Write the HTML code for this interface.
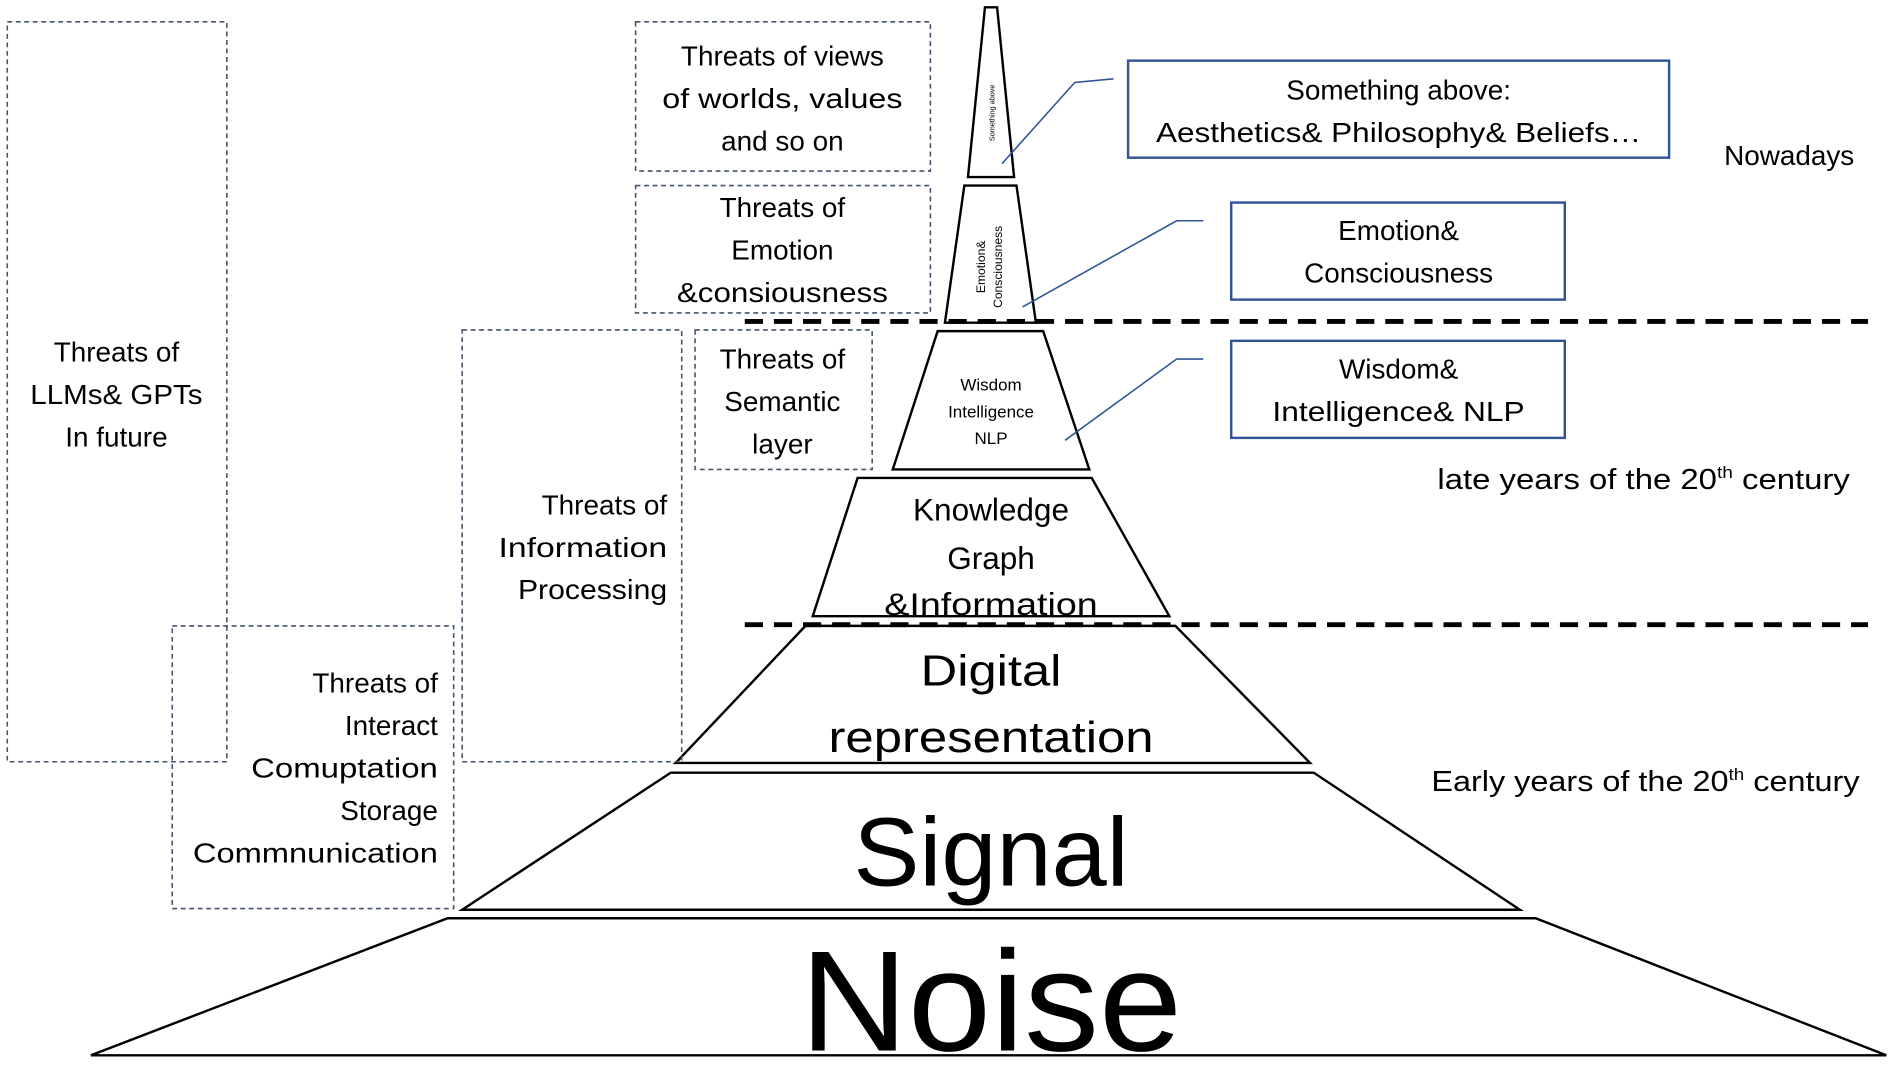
<!DOCTYPE html>
<html><head><meta charset="utf-8"><style>
html,body{margin:0;padding:0;background:#fff;}
svg{display:block;}
text{font-family:"Liberation Sans",sans-serif;fill:#000;}
</style></head><body>
<svg width="1902" height="1065" viewBox="0 0 1568 878" preserveAspectRatio="none" xmlns="http://www.w3.org/2000/svg">
<g fill="#fff" stroke="#000" stroke-width="2">
<polygon points="812,6 822,6 836,146 798,146"/>
<polygon points="795,153 838,153 854,266 779,266"/>
<polygon points="773,273 860,273 898,387 736,387"/>
<polygon points="707,394 900,394 964,508 670,508"/>
<polygon points="664,516 969,516 1080,629 557,629"/>
<polygon points="553,637 1083,637 1253,750 381,750"/>
<polygon points="369,757 1266,757 1555,870 75,870"/>
</g>
<g stroke="#000" stroke-width="4" stroke-dasharray="15,9">
<line x1="614" y1="265" x2="1540" y2="265"/>
<line x1="614" y1="515" x2="1540" y2="515"/>
</g>
<g fill="none" stroke="#44546a" stroke-width="1.3" stroke-dasharray="4,3">
<rect x="6" y="18" width="181" height="610"/>
<rect x="142" y="516" width="232" height="233"/>
<rect x="381" y="272" width="181" height="356"/>
<rect x="524" y="18" width="243" height="123"/>
<rect x="524" y="153" width="243" height="105"/>
<rect x="573" y="272" width="146" height="115"/>
</g>
<g fill="none" stroke="#2f5597" stroke-width="2">
<rect x="930" y="50" width="446" height="80"/>
<rect x="1015" y="167" width="275" height="80"/>
<rect x="1015" y="281" width="275" height="80"/>
</g>
<g fill="none" stroke="#2f5597" stroke-width="1.3">
<polyline points="918,65 886,68 826,135"/>
<polyline points="992,182 970,182 843,253"/>
<polyline points="992,296 970,296 878,363"/>
</g>
<g font-size="23" text-anchor="middle">
<text x="645" y="54">Threats of views</text>
<text x="645" y="89" textLength="198" lengthAdjust="spacingAndGlyphs">of worlds, values</text>
<text x="645" y="124">and so on</text>
<text x="645" y="179">Threats of</text>
<text x="645" y="214">Emotion</text>
<text x="645" y="249" textLength="174" lengthAdjust="spacingAndGlyphs">&amp;consiousness</text>
<text x="645" y="304">Threats of</text>
<text x="645" y="339">Semantic</text>
<text x="645" y="374">layer</text>
<text x="96" y="298">Threats of</text>
<text x="96" y="333" textLength="142" lengthAdjust="spacingAndGlyphs">LLMs&amp; GPTs</text>
<text x="96" y="368">In future</text>
<text x="1153" y="82">Something above:</text>
<text x="1153" y="117" textLength="400" lengthAdjust="spacingAndGlyphs">Aesthetics&amp; Philosophy&amp; Beliefs…</text>
<text x="1153" y="198">Emotion&amp;</text>
<text x="1153" y="233">Consciousness</text>
<text x="1153" y="312">Wisdom&amp;</text>
<text x="1153" y="347" textLength="208" lengthAdjust="spacingAndGlyphs">Intelligence&amp; NLP</text>
<text x="1475" y="136">Nowadays</text>
<text x="817" y="429" font-size="26">Knowledge</text>
<text x="817" y="469" font-size="26">Graph</text>
<text x="817" y="507" font-size="26" textLength="176" lengthAdjust="spacingAndGlyphs">&amp;Information</text>
</g>
<g font-size="23" text-anchor="end">
<text x="550" y="424">Threats of</text>
<text x="550" y="459" textLength="139" lengthAdjust="spacingAndGlyphs">Information</text>
<text x="550" y="494" textLength="123" lengthAdjust="spacingAndGlyphs">Processing</text>
<text x="361" y="571">Threats of</text>
<text x="361" y="606">Interact</text>
<text x="361" y="641" textLength="154" lengthAdjust="spacingAndGlyphs">Comuptation</text>
<text x="361" y="676">Storage</text>
<text x="361" y="711" textLength="202" lengthAdjust="spacingAndGlyphs">Commnunication</text>
</g>
<text x="1185" y="403" font-size="24" textLength="340" lengthAdjust="spacingAndGlyphs">late years of the 20<tspan font-size="14" dy="-9">th</tspan><tspan dy="9"> century</tspan></text>
<text x="1180" y="652" font-size="24" textLength="353" lengthAdjust="spacingAndGlyphs">Early years of the 20<tspan font-size="14" dy="-9">th</tspan><tspan dy="9"> century</tspan></text>
<g text-anchor="middle">
<text x="817" y="322" font-size="14">Wisdom</text>
<text x="817" y="344" font-size="14">Intelligence</text>
<text x="817" y="366" font-size="14">NLP</text>
<text x="817" y="565" font-size="36" textLength="116" lengthAdjust="spacingAndGlyphs">Digital</text>
<text x="817" y="620" font-size="36" textLength="268" lengthAdjust="spacingAndGlyphs">representation</text>
<text x="817" y="730" font-size="80" textLength="227" lengthAdjust="spacingAndGlyphs">Signal</text>
<text x="817" y="866" font-size="118" textLength="315" lengthAdjust="spacingAndGlyphs">Noise</text>
</g>
<text font-size="6" text-anchor="middle" transform="translate(820,93) rotate(-90)">Something above</text>
<text font-size="10" text-anchor="middle" transform="translate(812,220) rotate(-90)">Emotion&amp;</text>
<text font-size="10" text-anchor="middle" transform="translate(826,220) rotate(-90)">Consciousness</text>
</svg>
</body></html>
